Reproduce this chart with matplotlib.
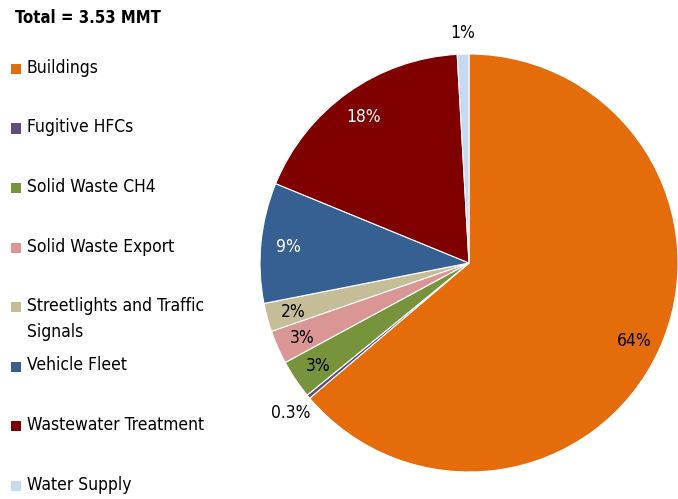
import matplotlib.pyplot as plt
from matplotlib.patches import Rectangle
import numpy as np

plt.rcParams['font.family'] = ['DejaVu Sans']
plt.rcParams['font.stretch'] = 'condensed'

# emissions share by sector, % of total (3.53 MMT)
sectors = ['Buildings', 'Fugitive HFCs', 'Solid Waste CH4', 'Solid Waste Export',
           'Streetlights and Traffic\nSignals', 'Vehicle Fleet',
           'Wastewater Treatment', 'Water Supply']
shares = [63.8, 0.3, 3.0, 2.6, 2.2, 9.3, 17.9, 0.9]
colors = ['#E46C0A', '#604A7B', '#77933C', '#D99694',
          '#C4BD97', '#376092', '#800000', '#C6D9F1']
label_colors = ['black', 'black', 'black', 'black', 'black', 'white', 'white', 'black']

fig = plt.figure(figsize=(6.78, 4.99), dpi=100)
ax = fig.add_axes([0.3835, 0.0541, 0.6165, 0.8377])

wedges, _ = ax.pie(shares, colors=colors, startangle=90, counterclock=False,
                   wedgeprops=dict(edgecolor='white', linewidth=0.8))
ax.set_aspect('equal')
ax.set_xlim(-1, 1)
ax.set_ylim(-1, 1)

# percentage labels, small slices pushed outside
for w, v, c in zip(wedges, shares, label_colors):
    mid = np.deg2rad((w.theta1 + w.theta2) / 2)
    dist = 1.11 if v < 1 else 0.87
    txt = f'{v:.1f}%' if v < 0.5 else f'{v:.0f}%'
    ax.text(dist * np.cos(mid), dist * np.sin(mid), txt, ha='center',
            va='center_baseline', fontsize=12.5, color=c, clip_on=False)

fig.text(15 / 678, 1 - 18 / 499, 'Total = 3.53 MMT', fontsize=12,
         fontweight='bold', ha='left', va='center')

# legend, one entry per row
for i, (name, col) in enumerate(zip(sectors, colors)):
    y = 1 - (69 + i * 59.5) / 499
    fig.patches.append(Rectangle((11 / 678, y - 5 / 499), 10 / 678, 10 / 499,
                                 transform=fig.transFigure, facecolor=col,
                                 edgecolor='none'))
    fig.text(27 / 678, y + 10 / 499, name, fontsize=12.5, ha='left', va='top',
             linespacing=1.6)

fig.savefig('out.png', dpi=100)
